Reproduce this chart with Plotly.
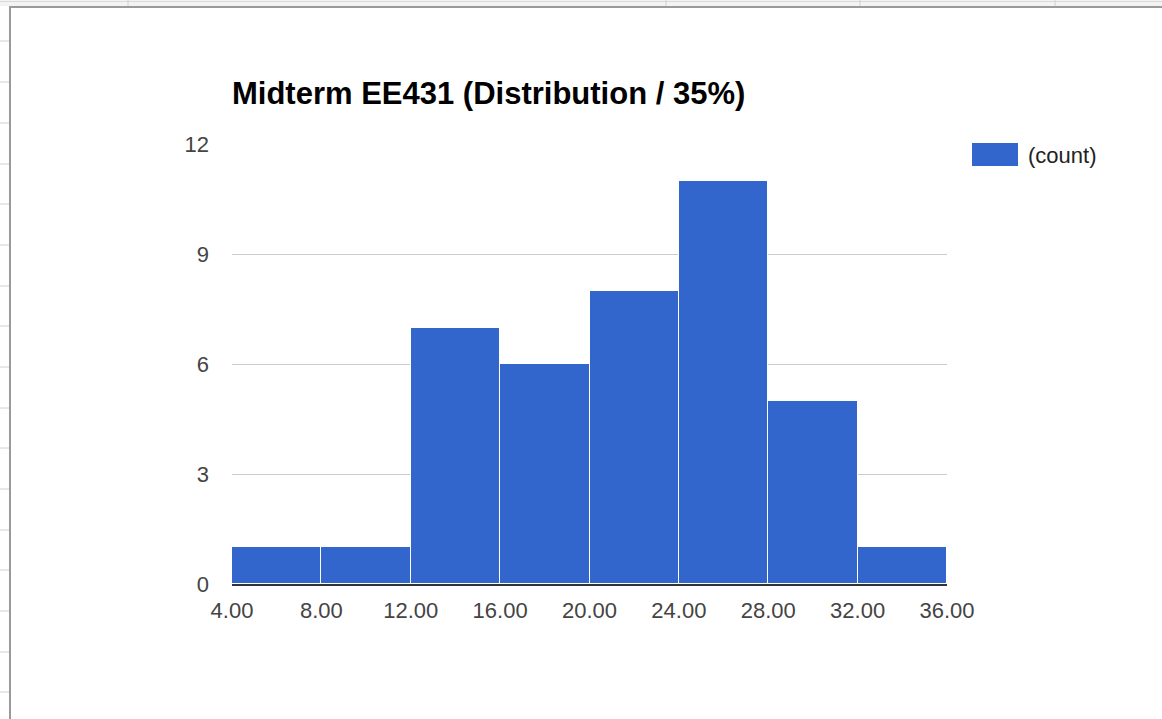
import plotly.graph_objects as go

# ---- data ----
bin_starts = [4, 8, 12, 16, 20, 24, 28, 32]
bin_width = 4
counts = [1, 1, 7, 6, 8, 11, 5, 1]
x_ticks = [4, 8, 12, 16, 20, 24, 28, 32, 36]
y_ticks = [0, 3, 6, 9, 12]
title_text = "Midterm EE431 (Distribution / 35%)"
series_name = "(count)"

W, H = 1162, 719
L, R, T, B = 232, 947, 144, 584  # plot area in px
BLUE = "#3366cc"
FONT = "Liberation Sans, Arial, sans-serif"

fig = go.Figure()
fig.add_trace(go.Bar(
    x=[s + bin_width / 2 for s in bin_starts],
    y=counts,
    width=[bin_width] * len(counts),
    marker=dict(color=BLUE, line=dict(color="white", width=1)),
    name=series_name,
    showlegend=False,
))

def px_x(p):
    return (p - L) / (R - L)

def px_y(p):
    return (B - p) / (B - T)

shapes = []
# spreadsheet background lines (decoration)
shapes.append(dict(type="rect", xref="paper", yref="paper",
                   x0=px_x(0), x1=px_x(W), y0=px_y(0), y1=px_y(6),
                   fillcolor="#f3f3f3", line=dict(width=0), layer="below"))
shapes.append(dict(type="line", xref="paper", yref="paper",
                   x0=px_x(0), x1=px_x(W), y0=px_y(1.5), y1=px_y(1.5),
                   line=dict(color="#d9d9d9", width=1)))
for xv in [128, 666, 860, 1055]:
    shapes.append(dict(type="line", xref="paper", yref="paper",
                       x0=px_x(xv), x1=px_x(xv), y0=px_y(0), y1=px_y(6),
                       line=dict(color="#d0d0d0", width=1)))
for yv in [41, 82, 123, 164, 204, 245, 286, 326, 367, 408, 448, 489, 530, 570, 611, 652, 692]:
    shapes.append(dict(type="line", xref="paper", yref="paper",
                       x0=px_x(0), x1=px_x(9), y0=px_y(yv), y1=px_y(yv),
                       line=dict(color="#d0d0d0", width=1)))
# chart frame
shapes.append(dict(type="line", xref="paper", yref="paper",
                   x0=px_x(9), x1=px_x(W), y0=px_y(7), y1=px_y(7),
                   line=dict(color="#9a9a9a", width=2)))
shapes.append(dict(type="line", xref="paper", yref="paper",
                   x0=px_x(10), x1=px_x(10), y0=px_y(6), y1=px_y(H),
                   line=dict(color="#9a9a9a", width=2)))
# legend swatch
shapes.append(dict(type="rect", xref="paper", yref="paper",
                   x0=px_x(972), x1=px_x(1018), y0=px_y(143), y1=px_y(166),
                   fillcolor=BLUE, line=dict(width=0)))

fig.update_layout(
    width=W, height=H,
    margin=dict(l=L, r=W - R, t=T, b=H - B, pad=0),
    paper_bgcolor="white", plot_bgcolor="white",
    bargap=0,
    font=dict(family=FONT, size=22, color="#444444"),
    title=dict(text="<b>" + title_text + "</b>", x=L / W, xanchor="left", xref="container",
               y=1 - 93 / H, yanchor="middle", yref="container",
               font=dict(size=31, color="#000000", family=FONT)),
    xaxis=dict(range=[x_ticks[0], x_ticks[-1]], tickvals=x_ticks, tickformat=".2f",
               showgrid=False, zeroline=False, showline=True, linecolor="#333333", linewidth=2,
               ticks="", ticklabelstandoff=6, fixedrange=True),
    yaxis=dict(range=[y_ticks[0], y_ticks[-1] + 0.01], tickvals=y_ticks, showgrid=True,
               gridcolor="#cccccc", gridwidth=1, zeroline=False, showline=False,
               ticks="", ticklabelstandoff=22, fixedrange=True),
    shapes=shapes,
    annotations=[dict(text=series_name, xref="paper", yref="paper",
                      x=px_x(1026), y=px_y(155), xanchor="left", yanchor="middle",
                      showarrow=False, font=dict(size=22, color="#222222"))],
    showlegend=False,
)

fig.write_html("out.html", config={"displayModeBar": False},
               post_script="document.body.style.margin='0';")
